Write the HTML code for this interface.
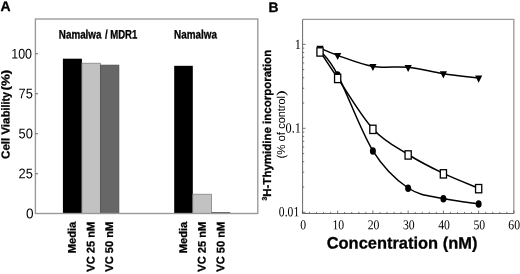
<!DOCTYPE html>
<html><head><meta charset="utf-8"><title>Figure</title>
<style>
html,body{margin:0;padding:0;background:#fff;}
body{width:520px;height:274px;overflow:hidden;}
svg{display:block;will-change:transform;}
text{font-family:"Liberation Sans",sans-serif;fill:#000;}
.b{font-weight:bold;stroke:#000;stroke-width:0.3px;}
.s{font-family:"Liberation Serif",serif;}
</style></head><body>
<svg width="520" height="274" viewBox="0 0 520 274">
<rect x="0" y="0" width="520" height="274" fill="#fff"/>
<text class="b" font-size="14.0" transform="translate(0.40,11.00) rotate(0.04)">A</text>
<rect x="62.9" y="58.7" width="19.00" height="154.80" fill="#000"/>
<rect x="81.9" y="63.2" width="18.50" height="150.30" fill="#c2c2c2" stroke="#7a7a7a" stroke-width="0.7"/>
<rect x="100.4" y="65.1" width="18.50" height="148.40" fill="#676767" stroke="#4a4a4a" stroke-width="0.7"/>
<rect x="174.2" y="65.8" width="18.60" height="147.70" fill="#000"/>
<rect x="192.8" y="194.2" width="18.80" height="19.30" fill="#c2c2c2" stroke="#7a7a7a" stroke-width="0.7"/>
<rect x="211.6" y="212.3" width="18.70" height="1.20" fill="#2a2a2a"/>
<rect x="35.4" y="19.0" width="222.4" height="194.5" fill="none" stroke="#989898" stroke-width="1.35"/>
<line x1="35.4" y1="53.75" x2="38.0" y2="53.75" stroke="#555" stroke-width="0.9"/>
<text font-size="14" text-anchor="end" transform="translate(32.00,58.50) rotate(0.04) scale(0.89,1)">100</text>
<line x1="35.4" y1="93.75" x2="38.0" y2="93.75" stroke="#555" stroke-width="0.9"/>
<text font-size="14" text-anchor="end" transform="translate(32.90,98.35) rotate(0.04) scale(0.92,1)">75</text>
<line x1="35.4" y1="133.75" x2="38.0" y2="133.75" stroke="#555" stroke-width="0.9"/>
<text font-size="14" text-anchor="end" transform="translate(32.90,138.35) rotate(0.04) scale(0.92,1)">50</text>
<line x1="35.4" y1="173.75" x2="38.0" y2="173.75" stroke="#555" stroke-width="0.9"/>
<text font-size="14" text-anchor="end" transform="translate(32.90,178.35) rotate(0.04) scale(0.92,1)">25</text>
<text font-size="14" text-anchor="end" transform="translate(33.50,218.25) rotate(0.04) scale(0.97,1)">0</text>
<text class="b" font-size="11.5" transform="translate(9.50,158.90) rotate(-89.96)">Cell Via</text>
<text class="b" font-size="11.5" text-anchor="end" transform="translate(9.50,92.00) rotate(-89.96) scale(0.93,1)">bility</text>
<text class="b" font-size="11.5" text-anchor="end" transform="translate(9.50,69.70) rotate(-89.96) scale(1.16,1)">(%)</text>
<text class="b" font-size="12.3" transform="translate(58.85,38.40) rotate(0.04) scale(0.8,1)">Namalwa</text>
<text class="b" font-size="12.3" text-anchor="end" transform="translate(137.35,38.40) rotate(0.04) scale(0.779,1)">/ MDR1</text>
<text class="b" font-size="12.3" transform="translate(174.00,38.40) rotate(0.04) scale(0.805,1)">Namalwa</text>
<text class="b" font-size="11.1" text-anchor="end" transform="translate(75.85,221.80) rotate(-89.96)">Media</text>
<text class="b" font-size="11.1" text-anchor="end" transform="translate(94.60,221.80) rotate(-89.96)">VC 25 nM</text>
<text class="b" font-size="11.1" text-anchor="end" transform="translate(113.10,221.80) rotate(-89.96)">VC 50 nM</text>
<text class="b" font-size="11.1" text-anchor="end" transform="translate(186.95,221.80) rotate(-89.96)">Media</text>
<text class="b" font-size="11.1" text-anchor="end" transform="translate(205.65,221.80) rotate(-89.96)">VC 25 nM</text>
<text class="b" font-size="11.1" text-anchor="end" transform="translate(224.40,221.80) rotate(-89.96)">VC 50 nM</text>
<text class="b" font-size="13.8" transform="translate(268.60,11.90) rotate(0.04)">B</text>
<path d="M302.6 19.4H513.8V213.5" fill="none" stroke="#9a9a9a" stroke-width="1.3"/>
<path d="M302.6 19.4V213.5H513.8" fill="none" stroke="#606060" stroke-width="0.95"/>
<line x1="302.40" y1="213.5" x2="302.40" y2="210.5" stroke="#4a4a4a" stroke-width="0.75"/>
<line x1="309.45" y1="213.5" x2="309.45" y2="211.9" stroke="#4a4a4a" stroke-width="0.75"/>
<line x1="316.50" y1="213.5" x2="316.50" y2="211.9" stroke="#4a4a4a" stroke-width="0.75"/>
<line x1="323.55" y1="213.5" x2="323.55" y2="211.9" stroke="#4a4a4a" stroke-width="0.75"/>
<line x1="330.60" y1="213.5" x2="330.60" y2="211.9" stroke="#4a4a4a" stroke-width="0.75"/>
<line x1="337.65" y1="213.5" x2="337.65" y2="210.5" stroke="#4a4a4a" stroke-width="0.75"/>
<line x1="344.70" y1="213.5" x2="344.70" y2="211.9" stroke="#4a4a4a" stroke-width="0.75"/>
<line x1="351.75" y1="213.5" x2="351.75" y2="211.9" stroke="#4a4a4a" stroke-width="0.75"/>
<line x1="358.80" y1="213.5" x2="358.80" y2="211.9" stroke="#4a4a4a" stroke-width="0.75"/>
<line x1="365.85" y1="213.5" x2="365.85" y2="211.9" stroke="#4a4a4a" stroke-width="0.75"/>
<line x1="372.90" y1="213.5" x2="372.90" y2="210.5" stroke="#4a4a4a" stroke-width="0.75"/>
<line x1="379.95" y1="213.5" x2="379.95" y2="211.9" stroke="#4a4a4a" stroke-width="0.75"/>
<line x1="387.00" y1="213.5" x2="387.00" y2="211.9" stroke="#4a4a4a" stroke-width="0.75"/>
<line x1="394.05" y1="213.5" x2="394.05" y2="211.9" stroke="#4a4a4a" stroke-width="0.75"/>
<line x1="401.10" y1="213.5" x2="401.10" y2="211.9" stroke="#4a4a4a" stroke-width="0.75"/>
<line x1="408.15" y1="213.5" x2="408.15" y2="210.5" stroke="#4a4a4a" stroke-width="0.75"/>
<line x1="415.20" y1="213.5" x2="415.20" y2="211.9" stroke="#4a4a4a" stroke-width="0.75"/>
<line x1="422.25" y1="213.5" x2="422.25" y2="211.9" stroke="#4a4a4a" stroke-width="0.75"/>
<line x1="429.30" y1="213.5" x2="429.30" y2="211.9" stroke="#4a4a4a" stroke-width="0.75"/>
<line x1="436.35" y1="213.5" x2="436.35" y2="211.9" stroke="#4a4a4a" stroke-width="0.75"/>
<line x1="443.40" y1="213.5" x2="443.40" y2="210.5" stroke="#4a4a4a" stroke-width="0.75"/>
<line x1="450.45" y1="213.5" x2="450.45" y2="211.9" stroke="#4a4a4a" stroke-width="0.75"/>
<line x1="457.50" y1="213.5" x2="457.50" y2="211.9" stroke="#4a4a4a" stroke-width="0.75"/>
<line x1="464.55" y1="213.5" x2="464.55" y2="211.9" stroke="#4a4a4a" stroke-width="0.75"/>
<line x1="471.60" y1="213.5" x2="471.60" y2="211.9" stroke="#4a4a4a" stroke-width="0.75"/>
<line x1="478.65" y1="213.5" x2="478.65" y2="210.5" stroke="#4a4a4a" stroke-width="0.75"/>
<line x1="485.70" y1="213.5" x2="485.70" y2="211.9" stroke="#4a4a4a" stroke-width="0.75"/>
<line x1="492.75" y1="213.5" x2="492.75" y2="211.9" stroke="#4a4a4a" stroke-width="0.75"/>
<line x1="499.80" y1="213.5" x2="499.80" y2="211.9" stroke="#4a4a4a" stroke-width="0.75"/>
<line x1="506.85" y1="213.5" x2="506.85" y2="211.9" stroke="#4a4a4a" stroke-width="0.75"/>
<line x1="513.90" y1="213.5" x2="513.90" y2="210.5" stroke="#4a4a4a" stroke-width="0.75"/>
<line x1="302.6" y1="44.30" x2="305.6" y2="44.30" stroke="#4a4a4a" stroke-width="0.75"/>
<line x1="302.6" y1="128.30" x2="305.6" y2="128.30" stroke="#4a4a4a" stroke-width="0.75"/>
<line x1="302.6" y1="103.01" x2="304.20000000000005" y2="103.01" stroke="#4a4a4a" stroke-width="0.75"/>
<line x1="302.6" y1="88.22" x2="304.20000000000005" y2="88.22" stroke="#4a4a4a" stroke-width="0.75"/>
<line x1="302.6" y1="77.73" x2="304.20000000000005" y2="77.73" stroke="#4a4a4a" stroke-width="0.75"/>
<line x1="302.6" y1="69.59" x2="304.20000000000005" y2="69.59" stroke="#4a4a4a" stroke-width="0.75"/>
<line x1="302.6" y1="62.94" x2="304.20000000000005" y2="62.94" stroke="#4a4a4a" stroke-width="0.75"/>
<line x1="302.6" y1="57.31" x2="304.20000000000005" y2="57.31" stroke="#4a4a4a" stroke-width="0.75"/>
<line x1="302.6" y1="52.44" x2="304.20000000000005" y2="52.44" stroke="#4a4a4a" stroke-width="0.75"/>
<line x1="302.6" y1="48.14" x2="304.20000000000005" y2="48.14" stroke="#4a4a4a" stroke-width="0.75"/>
<line x1="302.6" y1="212.30" x2="305.6" y2="212.30" stroke="#4a4a4a" stroke-width="0.75"/>
<line x1="302.6" y1="187.01" x2="304.20000000000005" y2="187.01" stroke="#4a4a4a" stroke-width="0.75"/>
<line x1="302.6" y1="172.22" x2="304.20000000000005" y2="172.22" stroke="#4a4a4a" stroke-width="0.75"/>
<line x1="302.6" y1="161.73" x2="304.20000000000005" y2="161.73" stroke="#4a4a4a" stroke-width="0.75"/>
<line x1="302.6" y1="153.59" x2="304.20000000000005" y2="153.59" stroke="#4a4a4a" stroke-width="0.75"/>
<line x1="302.6" y1="146.94" x2="304.20000000000005" y2="146.94" stroke="#4a4a4a" stroke-width="0.75"/>
<line x1="302.6" y1="141.31" x2="304.20000000000005" y2="141.31" stroke="#4a4a4a" stroke-width="0.75"/>
<line x1="302.6" y1="136.44" x2="304.20000000000005" y2="136.44" stroke="#4a4a4a" stroke-width="0.75"/>
<line x1="302.6" y1="132.14" x2="304.20000000000005" y2="132.14" stroke="#4a4a4a" stroke-width="0.75"/>
<text class="s" font-size="13.5" text-anchor="middle" transform="translate(303.10,229.20) rotate(0.04) scale(0.87,1)">0</text>
<text class="s" font-size="13.5" text-anchor="middle" transform="translate(338.35,229.20) rotate(0.04) scale(0.87,1)">10</text>
<text class="s" font-size="13.5" text-anchor="middle" transform="translate(373.60,229.20) rotate(0.04) scale(0.87,1)">20</text>
<text class="s" font-size="13.5" text-anchor="middle" transform="translate(408.85,229.20) rotate(0.04) scale(0.87,1)">30</text>
<text class="s" font-size="13.5" text-anchor="middle" transform="translate(444.10,229.20) rotate(0.04) scale(0.87,1)">40</text>
<text class="s" font-size="13.5" text-anchor="middle" transform="translate(479.35,229.20) rotate(0.04) scale(0.87,1)">50</text>
<text class="s" font-size="13.5" text-anchor="middle" transform="translate(514.20,229.20) rotate(0.04) scale(0.87,1)">60</text>
<text class="s" font-size="14" text-anchor="end" transform="translate(301.00,48.95) rotate(0.04) scale(0.88,1)">1</text>
<text class="s" font-size="14" text-anchor="end" transform="translate(301.00,132.60) rotate(0.04) scale(0.88,1)">0.1</text>
<text class="s" font-size="14" text-anchor="end" transform="translate(299.20,216.35) rotate(0.04) scale(0.83,1)">0.01</text>
<text class="b" font-size="16.45" transform="translate(326.70,248.40) rotate(0.04)">Concentration (nM)</text>
<text class="b" font-size="11.5" text-anchor="middle" transform="translate(271.00,125.20) rotate(-89.96)"><tspan font-size="6.8" dy="-4.2">3</tspan><tspan dy="4.2">H-Thymidine incorporation</tspan></text>
<text font-size="11.4" transform="translate(285.00,158.60) rotate(-89.96)">(% of </text>
<text font-size="11.4" transform="translate(285.00,128.80) rotate(-89.96) scale(0.96,1)">control</text>
<text font-size="11.4" text-anchor="end" transform="translate(285.00,90.00) rotate(-89.96) scale(1.5,1)">)</text>
<path d="M320.02 48.10C322.96 49.32 328.84 52.35 337.65 55.40C346.46 58.45 361.15 64.42 372.90 66.40C384.65 68.38 396.40 66.08 408.15 67.30C419.90 68.52 431.65 71.92 443.40 73.70C455.15 75.48 472.77 77.28 478.65 78.00" fill="none" stroke="#000" stroke-width="1.5"/>
<path d="M320.02 51.50C322.96 55.92 328.84 65.10 337.65 78.00C346.46 90.90 361.15 116.15 372.90 128.90C384.65 141.65 396.40 147.08 408.15 154.50C419.90 161.92 431.65 167.78 443.40 173.40C455.15 179.02 472.77 185.73 478.65 188.20" fill="none" stroke="#000" stroke-width="1.5"/>
<path d="M320.02 50.40C322.96 54.47 328.84 58.07 337.65 74.80C346.46 91.53 361.15 131.93 372.90 150.80C384.65 169.67 396.40 180.03 408.15 188.00C419.90 195.97 431.65 195.97 443.40 198.60C455.15 201.23 472.77 202.93 478.65 203.80" fill="none" stroke="#000" stroke-width="1.5"/>
<path d="M316.42 45.70H323.62L320.02 52.80Z" fill="#000"/>
<path d="M334.05 53.00H341.25L337.65 60.10Z" fill="#000"/>
<path d="M369.30 64.00H376.50L372.90 71.10Z" fill="#000"/>
<path d="M404.55 64.90H411.75L408.15 72.00Z" fill="#000"/>
<path d="M439.80 71.30H447.00L443.40 78.40Z" fill="#000"/>
<path d="M475.05 75.60H482.25L478.65 82.70Z" fill="#000"/>
<ellipse cx="320.02" cy="50.60" rx="3.0" ry="3.8" fill="#000"/>
<ellipse cx="337.65" cy="75.00" rx="3.0" ry="3.8" fill="#000"/>
<ellipse cx="372.90" cy="151.00" rx="3.0" ry="3.8" fill="#000"/>
<ellipse cx="408.15" cy="188.20" rx="3.0" ry="3.8" fill="#000"/>
<ellipse cx="443.40" cy="198.80" rx="3.0" ry="3.8" fill="#000"/>
<ellipse cx="478.65" cy="204.00" rx="3.0" ry="3.8" fill="#000"/>
<rect x="316.92" y="47.80" width="6.2" height="8.3" fill="#fff" stroke="#000" stroke-width="1.3"/>
<rect x="334.55" y="74.30" width="6.2" height="8.3" fill="#fff" stroke="#000" stroke-width="1.3"/>
<rect x="369.80" y="125.20" width="6.2" height="8.3" fill="#fff" stroke="#000" stroke-width="1.3"/>
<rect x="405.05" y="150.80" width="6.2" height="8.3" fill="#fff" stroke="#000" stroke-width="1.3"/>
<rect x="440.30" y="169.70" width="6.2" height="8.3" fill="#fff" stroke="#000" stroke-width="1.3"/>
<rect x="475.55" y="184.50" width="6.2" height="8.3" fill="#fff" stroke="#000" stroke-width="1.3"/>
</svg>
</body></html>
